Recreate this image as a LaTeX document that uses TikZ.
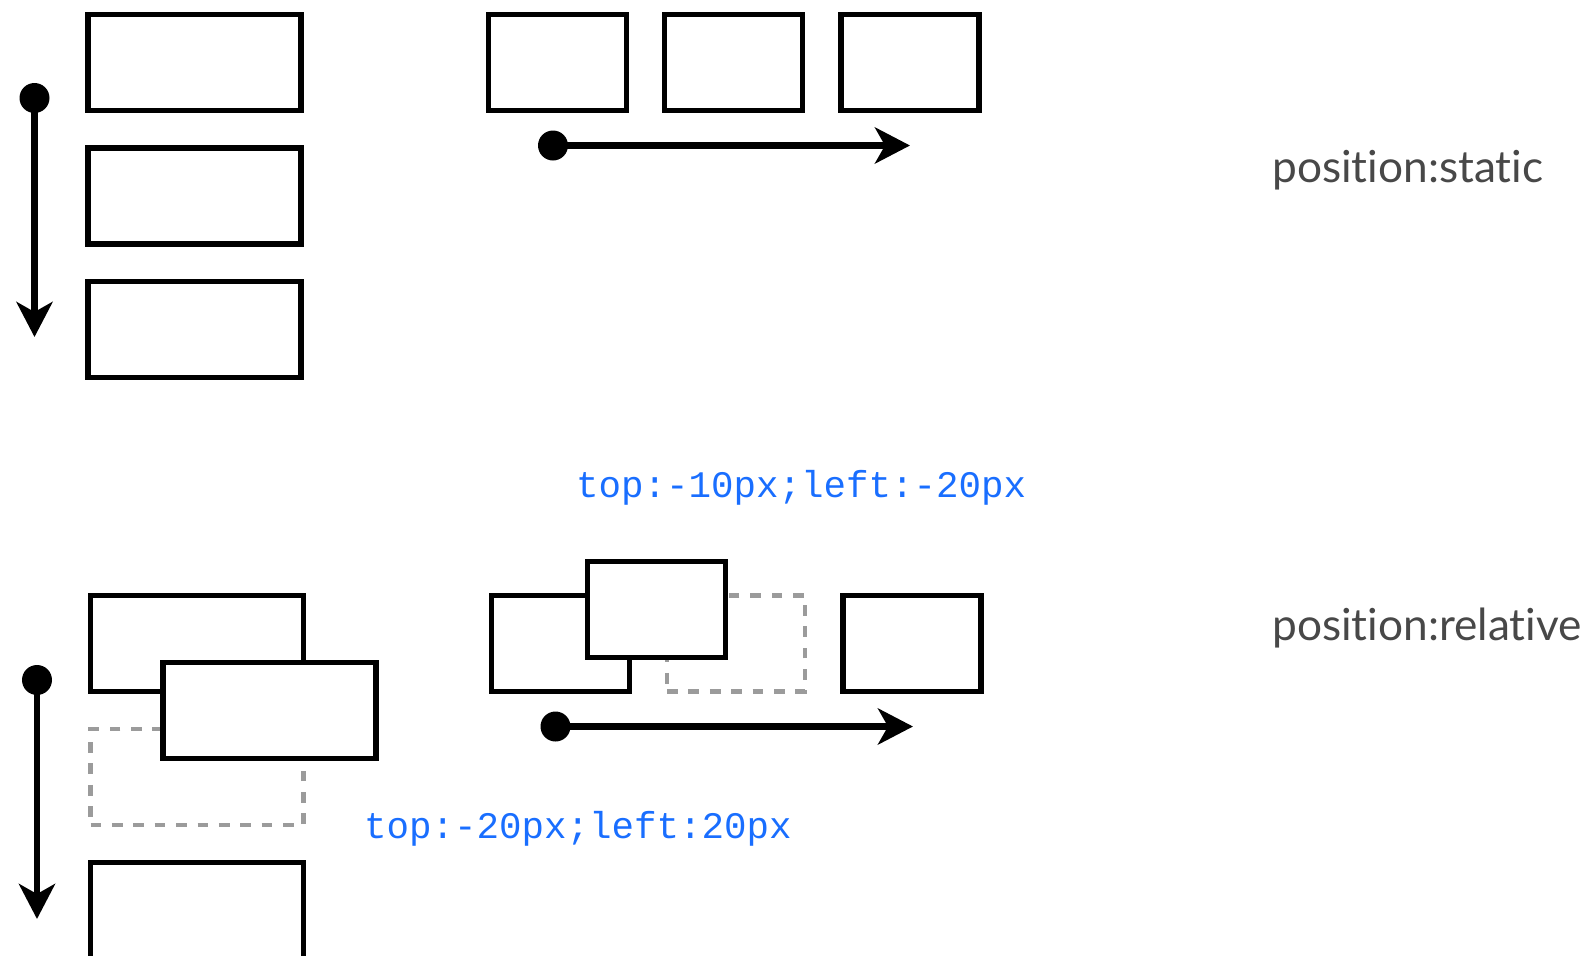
\documentclass[tikz,border=0pt]{standalone}
\usepackage{fontspec}
\usetikzlibrary{arrows.meta}
\newfontfamily\labelfont[Ligatures={NoCommon,NoContextual}]{Lato}
\newfontfamily\codefont{Liberation Mono}
\definecolor{codeblue}{RGB}{25,110,255}
\definecolor{labelgray}{RGB}{72,72,72}
\definecolor{ghostgray}{RGB}{155,155,155}

\begin{document}
\begin{tikzpicture}[x=1pt,y=-1pt,
  box/.style={draw=black, fill=white, line width=5.2pt, rectangle,
    inner sep=0pt, outer sep=0pt},
  vbox/.style={box, minimum width=213pt, minimum height=96pt},
  hbox/.style={box, minimum width=138pt, minimum height=96pt},
  ghostv/.style={vbox, draw=ghostgray, line width=4.8pt,
    dash pattern=on 10.7pt off 10.7pt},
  ghosth/.style={hbox, draw=ghostgray, line width=4.8pt,
    dash pattern=on 10.7pt off 10.7pt},
  flowdot/.style={circle, fill=black, minimum size=30pt, inner sep=0pt,
    outer sep=0pt},
  flow/.style={line width=6.8pt,
    -{Stealth[length=35pt, width=36pt, inset=10pt]}},
  caption/.style={anchor=base west, inner sep=0pt, text=labelgray,
    font=\labelfont\fontsize{44.2}{50}\selectfont},
  code/.style={anchor=base west, inner sep=0pt, text=codeblue,
    font=\codefont\fontsize{37.5}{42}\selectfont}]

\useasboundingbox (0,0) rectangle (1588,956);
\clip (0,0) rectangle (1588,956);

% ---- position:static, block flow ----
\node[vbox] (s1) at (194.5,62.5) {};
\node[vbox] (s2) at (194.5,196) {};
\node[vbox] (s3) at (194.5,329.5) {};
\node[flowdot] (sv) at (34.5,98) {};
\coordinate (svend) at (34.5,337);
\draw[flow] (sv.center) -- (svend);

% ---- position:static, inline flow ----
\node[hbox] (i1) at (557.5,62.5) {};
\node[hbox] (i2) at (733.5,62.5) {};
\node[hbox] (i3) at (910,62.5) {};
\node[flowdot] (sh) at (553,145.5) {};
\coordinate (shend) at (910,145.5);
\draw[flow] (sh.center) -- (shend);

\node[caption] (capstatic) at (1272,182) {position:static};

% ---- position:relative, block flow ----
\node[ghostv] (r2ghost) at (197,777) {};
\node[vbox] (r1) at (197,643.5) {};
\node[vbox] (r2) at (269.5,710.5) {};
\node[vbox] (r3) at (197,910.5) {};
\node[flowdot] (rv) at (37,680) {};
\coordinate (rvend) at (37,919);
\draw[flow] (rv.center) -- (rvend);
\node[code] (offsetv) at (364,838) {top:-20px;left:20px};

% ---- position:relative, inline flow ----
\node[ghosth] (j2ghost) at (736,643.5) {};
\node[hbox] (j1) at (560.5,643.5) {};
\node[hbox] (j2) at (656.5,609.5) {};
\node[hbox] (j3) at (912,643.5) {};
\node[flowdot] (rh) at (555.5,726.5) {};
\coordinate (rhend) at (913,726.5);
\draw[flow] (rh.center) -- (rhend);
\node[code] (offseth) at (576,497) {top:-10px;left:-20px};

\node[caption] (caprelative) at (1272,640) {position:relative};
\end{tikzpicture}
\end{document}
